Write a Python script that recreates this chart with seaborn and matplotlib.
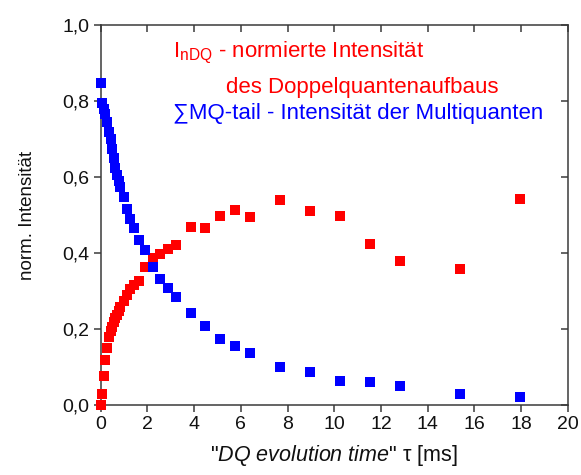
import numpy as np
import pandas as pd
import matplotlib
matplotlib.use("Agg")
import matplotlib.pyplot as plt
from matplotlib.ticker import FuncFormatter
import seaborn as sns

# DQ evolution time tau [ms]
tau = [0.0, 0.07, 0.14, 0.21, 0.28, 0.36, 0.43, 0.50, 0.57, 0.64, 0.71, 0.78,
       0.85, 1.00, 1.14, 1.28, 1.42, 1.64, 1.90, 2.25, 2.55, 2.88, 3.21, 3.85,
       4.49, 5.13, 5.77, 6.41, 7.69, 8.97, 10.26, 11.54, 12.82, 15.38, 17.95]

# normalised double-quantum build-up intensity I_nDQ
i_ndq = [0.0, 0.03, 0.075, 0.118, 0.15, 0.18, 0.195, 0.206, 0.218, 0.228, 0.237,
         0.248, 0.259, 0.275, 0.29, 0.305, 0.316, 0.326, 0.362, 0.386, 0.397,
         0.412, 0.421, 0.469, 0.467, 0.498, 0.513, 0.494, 0.539, 0.511, 0.497,
         0.424, 0.379, 0.357, 0.542]

# multi-quantum tail intensity (sum MQ)
smq_tail = [0.848, 0.795, 0.78, 0.765, 0.745, 0.72, 0.70, 0.675, 0.65, 0.625,
            0.605, 0.59, 0.575, 0.548, 0.515, 0.49, 0.465, 0.434, 0.408, 0.364,
            0.333, 0.309, 0.285, 0.241, 0.209, 0.175, 0.156, 0.138, 0.101, 0.088,
            0.064, 0.061, 0.051, 0.029, 0.020]

x_ticks = list(range(0, 21, 2))
y_ticks = [0.0, 0.2, 0.4, 0.6, 0.8, 1.0]

df = pd.DataFrame({"tau": tau, "ndq": i_ndq, "mq": smq_tail})

sns.set_theme(style="ticks")
plt.rcParams["font.family"] = ["Liberation Sans", "DejaVu Sans"]
plt.rcParams["mathtext.fontset"] = "custom"
plt.rcParams["mathtext.rm"] = "Liberation Sans"
plt.rcParams["mathtext.it"] = "Liberation Sans:italic"

fig = plt.figure(figsize=(5.81, 4.75), dpi=100)
ax = fig.add_axes([0.173, 0.1474, 0.8046, 0.7996])

RED = "#ff0000"
BLUE = "#0000ff"
sns.scatterplot(data=df, x="tau", y="ndq", marker="s", s=55, color=RED,
                linewidth=0, ax=ax, clip_on=False, zorder=3)
sns.scatterplot(data=df, x="tau", y="mq", marker="s", s=55, color=BLUE,
                linewidth=0, ax=ax, clip_on=False, zorder=4)

ax.set_xlim(0, 20)
ax.set_ylim(0, 1.0)
ax.set_xticks(x_ticks)
ax.set_yticks(y_ticks)
ax.yaxis.set_major_formatter(FuncFormatter(lambda v, p: f"{v:.1f}".replace(".", ",")))

spine_col = "#3a3a3a"
for s in ax.spines.values():
    s.set_visible(True)
    s.set_color(spine_col)
    s.set_linewidth(1.1)

ax.tick_params(axis="both", direction="out", length=5, width=1.1,
               color=spine_col, labelsize=14, labelcolor="#111111", pad=3)

# inward mirror ticks on top and right
top = ax.secondary_xaxis("top")
top.set_xticks(x_ticks)
top.tick_params(direction="in", length=5, width=1.1, color=spine_col, labeltop=False)
top.spines["top"].set_visible(False)
right = ax.secondary_yaxis("right")
right.set_yticks(y_ticks)
right.tick_params(direction="in", length=5, width=1.1, color=spine_col, labelright=False)
right.spines["right"].set_visible(False)

ax.set_xlabel(r'"$\mathit{DQ\ evolution\ time}$" τ [ms]', fontsize=15.5,
              color="#111111", labelpad=7)
ax.set_ylabel("norm. Intensität", fontsize=13.5, color="#111111", labelpad=19)

ax.text(3.08, 0.926, r"$\mathregular{I_{nDQ}}$ - normierte Intensität",
        color=RED, fontsize=16, va="center", ha="left")
ax.text(5.38, 0.837, "des Doppelquantenaufbaus", color=RED, fontsize=16,
        va="center", ha="left")
ax.text(3.08, 0.768, "∑MQ-tail - Intensität der Multiquanten", color=BLUE,
        fontsize=16, va="center", ha="left")

fig.savefig("out.png", dpi=100)
